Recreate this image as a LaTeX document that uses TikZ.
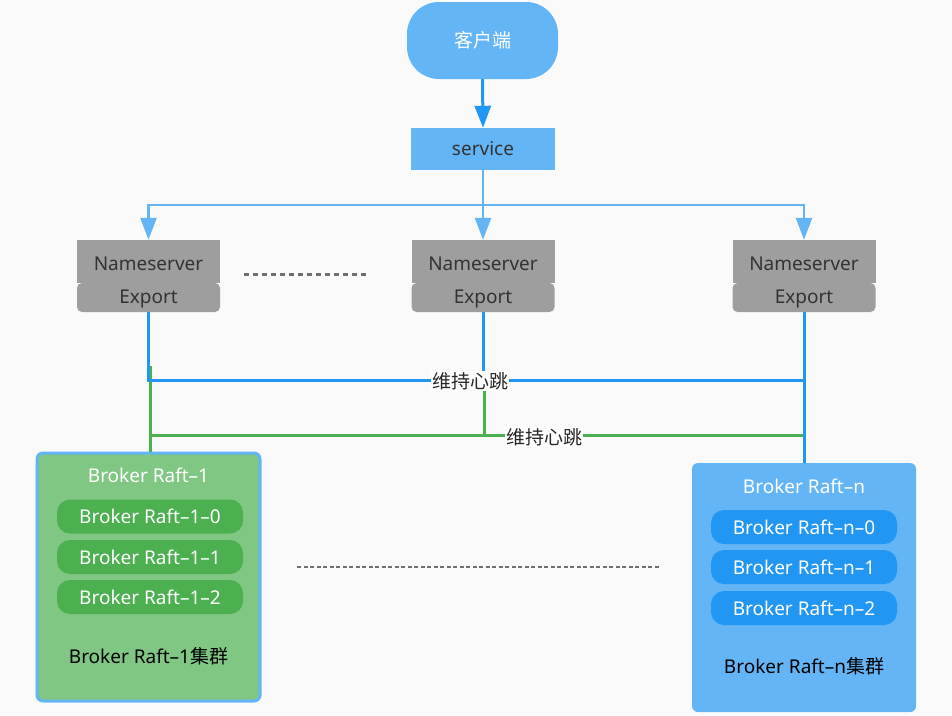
\documentclass[tikz,border=0pt]{standalone}
\usepackage{fontspec}
\setmainfont{Noto Sans}
\newfontfamily\cjk{Noto Sans CJK SC}
\usetikzlibrary{arrows.meta}
\definecolor{lblue}{HTML}{64B5F6}
\definecolor{dblue}{HTML}{2196F3}
\definecolor{lgreen}{HTML}{81C784}
\definecolor{dgreen}{HTML}{4CAF50}
\definecolor{nsgray}{HTML}{9E9E9E}
\definecolor{bgc}{HTML}{FAFAFA}
\definecolor{txt}{HTML}{333333}
\definecolor{dotc}{HTML}{6F6F6F}
\begin{document}
\begin{tikzpicture}[x=1pt,y=-1pt,
  base/.style={inner sep=0pt, font=\fontsize{19}{22}\selectfont},
  ns/.style={base, fill=nsgray, text=txt, minimum width=143pt, minimum height=43pt},
  ex/.style={base, fill=nsgray, text=txt, minimum width=143pt, minimum height=29pt, rounded corners=5pt},
  cluster/.style={base, minimum width=223pt, minimum height=248pt, rounded corners=6pt},
  pill/.style={base, text=white, minimum width=186pt, minimum height=34pt, rounded corners=13pt},
  ttl/.style={base, text=white},
  foot/.style={base, text=black},
  lab/.style={base, fill=white, text=black!85, inner sep=1pt},
  tip/.style={-{Triangle[length=22pt,width=16pt]}},
  lline/.style={draw=lblue, line width=2.5pt},
  dline/.style={draw=dblue, line width=3pt},
  gline/.style={draw=dgreen, line width=3pt},
  dots/.style={draw=dotc, line width=3pt, dash pattern=on 5pt off 4pt},
  dotsb/.style={draw=dotc, line width=2pt, dash pattern=on 4pt off 2.5pt}
]
\fill[bgc] (0,0) rectangle (952,715);
\useasboundingbox (0,0) rectangle (952,715);

% client and service
\node[base, fill=lblue, text=white, minimum width=151pt, minimum height=77pt, rounded corners=32pt] (cli) at (482.5,40.5) {\cjk 客户端};
\node[base, fill=lblue, text=txt, minimum width=144pt, minimum height=42pt] (svc) at (483,149) {service};

% nameservers
\node[ex] (ex1) at (148.5,297.5) {};
\node[ns] (ns1) at (148.5,261.5) {};
\node[base, text=txt] (n1) at (148.5,264) {Nameserver};
\node[base, text=txt] (e1) at (148.5,299) {Export};

\node[ex] (ex2) at (483,297.5) {};
\node[ns] (ns2) at (483,261.5) {};
\node[base, text=txt] (n2) at (483,264) {Nameserver};
\node[base, text=txt] (e2) at (483,299) {Export};

\node[ex] (ex3) at (804,297.5) {};
\node[ns] (ns3) at (804,261.5) {};
\node[base, text=txt] (n3) at (804,264) {Nameserver};
\node[base, text=txt] (e3) at (804,299) {Export};

% clusters
\node[cluster, fill=lgreen, draw=lblue, line width=3pt] (c1) at (148.5,577) {};
\node[ttl] (t1) at (148.5,475) {Broker Raft–1};
\node[pill, fill=dgreen] (p10) at (150,516.5) {Broker Raft–1–0};
\node[pill, fill=dgreen] (p11) at (150,557) {Broker Raft–1–1};
\node[pill, fill=dgreen] (p12) at (150,597) {Broker Raft–1–2};
\node[foot] (f1) at (148.5,656) {Broker Raft–1{\cjk 集群}};

\node[cluster, fill=lblue, minimum width=224pt, minimum height=249pt] (cn) at (804,587.5) {};
\node[ttl] (tn) at (804,486) {Broker Raft–n};
\node[pill, fill=dblue] (pn0) at (804,527) {Broker Raft–n–0};
\node[pill, fill=dblue] (pn1) at (804,567) {Broker Raft–n–1};
\node[pill, fill=dblue] (pn2) at (804,608) {Broker Raft–n–2};
\node[foot] (fn) at (804,666) {Broker Raft–n{\cjk 集群}};

% top connectors
\coordinate (br) at (483,205);
\draw[dline, tip] (cli.south) -- (svc.north);
\draw[lline, tip] (svc.south) -- (ns2.north);
\draw[lline, tip] (br) -| (ns1.north);
\draw[lline, tip] (br) -| (ns3.north);

% green heartbeat lines
\coordinate (g0) at (150.5,366);
\coordinate (gL) at (150.5,435);
\coordinate (gM) at (484,435);
\coordinate (gT) at (484,380);
\coordinate (gR) at (804,435);
\draw[gline] ([xshift=2pt]c1.north) -- (g0);
\draw[gline] (gL) -- (gR);
\draw[gline] (gT) -- (gM);

% blue heartbeat lines
\coordinate (bR) at (804,380);
\draw[dline] (ex1.south) |- (bR);
\draw[dline] (ex2.south) -- (ex2.south |- bR);
\draw[dline] (ex3.south) -- (cn.north);

% labels
\node[lab] (h1) at (470,381) {\cjk 维持心跳};
\node[lab] (h2) at (544,437) {\cjk 维持心跳};

% dotted separators
\coordinate (d1) at (244,274);
\coordinate (d2) at (367,274);
\draw[dots] (d1) -- (d2);
\coordinate (d3) at (297,567);
\coordinate (d4) at (659,567);
\draw[dotsb] (d3) -- (d4);
\end{tikzpicture}
\end{document}
